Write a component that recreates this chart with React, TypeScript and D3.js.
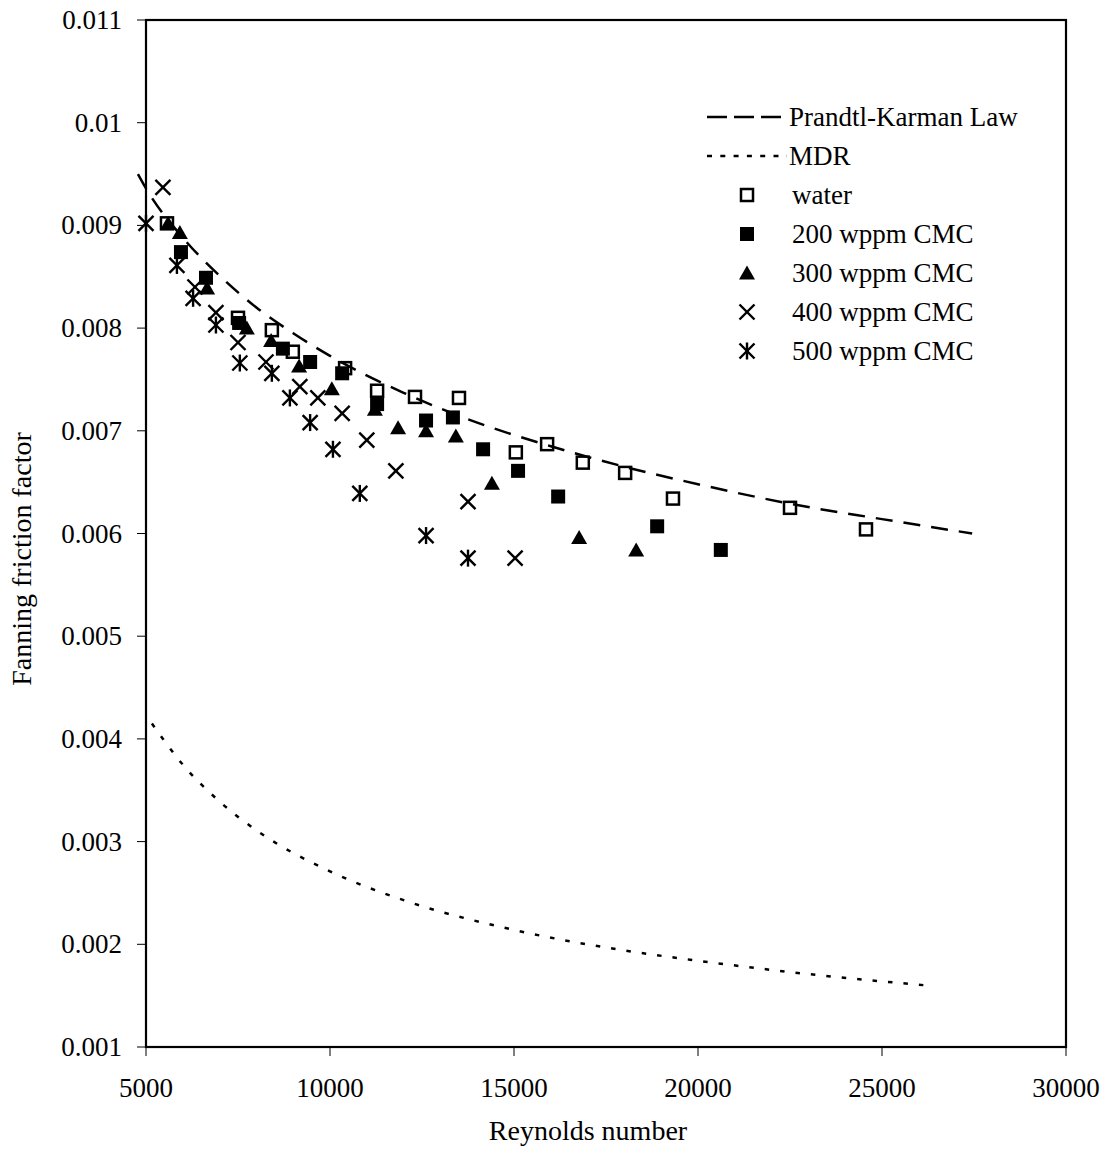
import React from 'react';
import * as d3 from 'd3';

// ---------- data ----------
const xTicks = [5000, 10000, 15000, 20000, 25000, 30000];
const yTicks = [0.001, 0.002, 0.003, 0.004, 0.005, 0.006, 0.007, 0.008, 0.009, 0.01, 0.011];
const yTickLabels = ['0.001', '0.002', '0.003', '0.004', '0.005', '0.006', '0.007', '0.008', '0.009', '0.01', '0.011'];

const prandtlKarman: [number, number][] = [
  [4780, 0.0095], [5000, 0.00936], [6000, 0.00888], [7000, 0.00851], [8000, 0.0082],
  [9000, 0.00795], [10000, 0.00773], [12000, 0.00737], [14000, 0.00708], [16000, 0.00685],
  [18000, 0.00665], [20000, 0.00648], [22500, 0.00629], [25000, 0.00614], [27450, 0.006],
];
const mdr: [number, number][] = [
  [5160, 0.00415], [6000, 0.00375], [7000, 0.00339], [8000, 0.00311], [10000, 0.00271],
  [12000, 0.00243], [15000, 0.00214], [18000, 0.00194], [20000, 0.00184], [23000, 0.00171],
  [26200, 0.0016],
];

const water: [number, number][] = [
  [5570, 0.00902], [7500, 0.0081], [8420, 0.00798], [8990, 0.00777], [10410, 0.00761],
  [11280, 0.00739], [12310, 0.00733], [13505, 0.00732], [15050, 0.00679], [15900, 0.00687],
  [16870, 0.00669], [18020, 0.00659], [19320, 0.00634], [22500, 0.00625], [24565, 0.00604],
];
const cmc200: [number, number][] = [
  [5950, 0.00874], [6630, 0.00849], [7530, 0.00805], [8720, 0.0078], [9460, 0.00767],
  [10330, 0.00756], [11280, 0.00726], [12610, 0.0071], [13340, 0.00713], [14160, 0.00682],
  [15110, 0.00661], [16200, 0.00636], [18890, 0.00607], [20620, 0.00584],
];
const cmc300: [number, number][] = [
  [5600, 0.00902], [5920, 0.00893], [6660, 0.00839], [7740, 0.008], [8400, 0.00788],
  [9160, 0.00763], [10050, 0.00741], [11220, 0.00721], [11850, 0.00703], [12610, 0.007],
  [13420, 0.00695], [14400, 0.00649], [16770, 0.00596], [18320, 0.00584],
];
const cmc400: [number, number][] = [
  [5460, 0.00937], [6330, 0.0084], [6900, 0.00815], [7500, 0.00786], [8260, 0.00767],
  [9180, 0.00743], [9670, 0.00732], [10330, 0.00717], [11000, 0.00691], [11790, 0.00661],
  [13750, 0.00631], [15030, 0.00576],
];
const cmc500: [number, number][] = [
  [5000, 0.00902], [5840, 0.00861], [6280, 0.00829], [6900, 0.00803], [7550, 0.00766],
  [8420, 0.00756], [8910, 0.00732], [9460, 0.00708], [10080, 0.00682], [10810, 0.00639],
  [12610, 0.00598], [13750, 0.00576],
];

const legendLabels = ['Prandtl-Karman Law', 'MDR', 'water', '200 wppm CMC', '300 wppm CMC', '400 wppm CMC', '500 wppm CMC'];

// ---------- layout ----------
const W = 1114;
const H = 1149;
const L = 146, R = 1066, T = 20, B = 1047;
const FONT = '"Liberation Serif", "Times New Roman", serif';
const FS = 27;
const FS_TITLE = 28;

type Kind = 'open' | 'filled' | 'tri' | 'x' | 'star';

function Marker({ kind, cx, cy }: { kind: Kind; cx: number; cy: number }) {
  if (kind === 'open') {
    return <rect x={cx - 6} y={cy - 6} width={12} height={12} fill="none" stroke="#000" strokeWidth={2.5} />;
  }
  if (kind === 'filled') {
    return <rect x={cx - 7} y={cy - 7} width={14} height={14} fill="#000" />;
  }
  if (kind === 'tri') {
    const p = `${cx},${cy - 7.5} ${cx + 8},${cy + 6.5} ${cx - 8},${cy + 6.5}`;
    return <polygon points={p} fill="#000" />;
  }
  const s = 7.5;
  const cross = (
    <>
      <line x1={cx - s} y1={cy - s} x2={cx + s} y2={cy + s} stroke="#000" strokeWidth={2.4} />
      <line x1={cx - s} y1={cy + s} x2={cx + s} y2={cy - s} stroke="#000" strokeWidth={2.4} />
    </>
  );
  if (kind === 'x') return <g>{cross}</g>;
  return (
    <g>
      {cross}
      <line x1={cx} y1={cy - 8.5} x2={cx} y2={cy + 8.5} stroke="#000" strokeWidth={2.4} />
    </g>
  );
}

export default function App() {
  const x = d3.scaleLinear().domain([5000, 30000]).range([L, R]);
  const y = d3.scaleLinear().domain([0.001, 0.011]).range([B, T]);
  const line = d3
    .line<[number, number]>()
    .x((d) => x(d[0]))
    .y((d) => y(d[1]))
    .curve(d3.curveMonotoneX);

  const series: { data: [number, number][]; kind: Kind }[] = [
    { data: water, kind: 'open' },
    { data: cmc200, kind: 'filled' },
    { data: cmc300, kind: 'tri' },
    { data: cmc400, kind: 'x' },
    { data: cmc500, kind: 'star' },
  ];

  const legendY = (i: number) => 117 + i * 39;
  const legendKinds: Kind[] = ['open', 'filled', 'tri', 'x', 'star'];

  return (
    <svg
      width={W}
      height={H}
      viewBox={`0 0 ${W} ${H}`}
      style={{ position: 'absolute', left: 0, top: 0, background: '#fff' }}
      fontFamily={FONT}
    >
      <rect x={0} y={0} width={W} height={H} fill="#fff" />

      {/* curves */}
      <path d={line(prandtlKarman) || ''} fill="none" stroke="#000" strokeWidth={2.5} strokeDasharray="17 11" />
      <path d={line(mdr) || ''} fill="none" stroke="#000" strokeWidth={2.5} strokeDasharray="4.5 11" />

      {/* markers */}
      {series.map((s, si) => (
        <g key={si}>
          {s.data.map((d, i) => (
            <Marker key={i} kind={s.kind} cx={x(d[0])} cy={y(d[1])} />
          ))}
        </g>
      ))}

      {/* plot frame */}
      <rect x={L} y={T} width={R - L} height={B - T} fill="none" stroke="#000" strokeWidth={2.2} />

      {/* y ticks */}
      {yTicks.map((t, i) => (
        <g key={'y' + i}>
          <line x1={L - 9} x2={L} y1={y(t)} y2={y(t)} stroke="#000" strokeWidth={1} />
          <text x={122} y={y(t) + 9} textAnchor="end" fontSize={FS} fill="#000">
            {yTickLabels[i]}
          </text>
        </g>
      ))}

      {/* x ticks */}
      {xTicks.map((t, i) => (
        <g key={'x' + i}>
          <line x1={x(t)} x2={x(t)} y1={B} y2={B + 9} stroke="#000" strokeWidth={1} />
          <text x={x(t)} y={1097} textAnchor="middle" fontSize={FS} fill="#000">
            {String(t)}
          </text>
        </g>
      ))}

      {/* axis titles */}
      <text x={588} y={1140} textAnchor="middle" fontSize={FS_TITLE} fill="#000">
        Reynolds number
      </text>
      <text
        transform={`translate(31, 559) rotate(-90)`}
        textAnchor="middle"
        fontSize={FS_TITLE}
        fill="#000"
      >
        Fanning friction factor
      </text>

      {/* legend */}
      <line x1={707} x2={781} y1={legendY(0)} y2={legendY(0)} stroke="#000" strokeWidth={2.5} strokeDasharray="20 7" />
      <line x1={707} x2={787} y1={legendY(1)} y2={legendY(1)} stroke="#000" strokeWidth={2.5} strokeDasharray="5 8.3" />
      {legendKinds.map((k, i) => (
        <Marker key={'lm' + i} kind={k} cx={747} cy={legendY(i + 2)} />
      ))}
      {legendLabels.map((lab, i) => (
        <text key={'lt' + i} x={i < 2 ? 789 : 792} y={legendY(i) + 9} fontSize={FS} fill="#000">
          {lab}
        </text>
      ))}
    </svg>
  );
}
